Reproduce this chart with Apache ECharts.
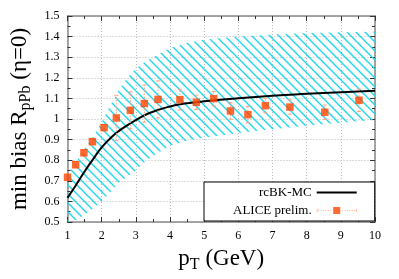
<!DOCTYPE html>
<html><head><meta charset="utf-8">
<script src="https://cdn.jsdelivr.net/npm/echarts@6/dist/echarts.min.js"></script>
<style>html,body{margin:0;padding:0;background:#fff}#c{width:399px;height:279px}</style>
</head><body><div id="c"></div>
<script>
// ---- data ----
const aliceX = [1.00, 1.24, 1.48, 1.73, 2.07, 2.43, 2.84, 3.25, 3.65, 4.29, 4.77, 5.28, 5.77, 6.28, 6.79, 7.51, 8.53, 9.53];
const aliceY = [0.717, 0.778, 0.836, 0.890, 0.958, 1.005, 1.042, 1.075, 1.095, 1.094, 1.081, 1.099, 1.039, 1.021, 1.065, 1.058, 1.033, 1.091];
const aliceErr = [0.015, 0.015, 0.015, 0.015, 0.015, 0.11, 0.09, 0.09, 0.09, 0.05, 0.035, 0.035, 0.04, 0.04, 0.035, 0.035, 0.035, 0.055];

const modelX = [1, 1.25, 1.5, 1.75, 2, 2.3, 2.6, 3, 3.4, 4, 4.5, 5, 6, 7, 8, 9, 10];
const modelY = [0.617, 0.68, 0.745, 0.805, 0.862, 0.914, 0.953, 0.995, 1.029, 1.061, 1.076, 1.086, 1.101, 1.113, 1.122, 1.130, 1.137];

const bandX    = [1, 1.25, 1.5, 1.75, 2, 2.25, 2.5, 2.75, 3, 3.25, 3.5, 4, 4.5, 5, 5.5, 6, 7, 8, 9, 10];
const bandHigh = [0.735, 0.79, 0.855, 0.915, 0.985, 1.065, 1.14, 1.20, 1.245, 1.275, 1.30, 1.345, 1.37, 1.385, 1.393, 1.40, 1.41, 1.417, 1.421, 1.424];
const bandLow  = [0.50, 0.51, 0.535, 0.565, 0.60, 0.645, 0.69, 0.72, 0.75, 0.79, 0.82, 0.87, 0.895, 0.91, 0.92, 0.932, 0.95, 0.967, 0.982, 0.995];

const xMin = 1, xMax = 10, xStep = 1;
const yMin = 0.5, yMax = 1.5, yStep = 0.1;
const legendNames = ['rcBK-MC', 'ALICE prelim.'];

// ---- styles ----
const SERIF = 'Liberation Serif';
function hatchCanvas() {
  const s = 9, c = document.createElement('canvas');
  c.width = s; c.height = s;
  const g = c.getContext('2d');
  g.strokeStyle = '#1ed8ea'; g.lineWidth = 1.4;
  g.beginPath();
  g.moveTo(-1, -1); g.lineTo(s + 1, s + 1);
  g.moveTo(-1, s - 1); g.lineTo(1, s + 1);
  g.moveTo(s - 1, -1); g.lineTo(s + 1, 1);
  g.stroke();
  return c;
}
const hatch = hatchCanvas();

function aliceIcon() {
  let p = 'path://M16.5,0 L23.5,0 L23.5,7 L16.5,7 Z M0,1.5 L0.8,1.5 L0.8,5.5 L0,5.5 Z M39.2,1.5 L40,1.5 L40,5.5 L39.2,5.5 Z';
  for (let x = 1.5; x < 39; x += 2.4) {
    if (x > 15.5 && x < 23.5) continue;
    p += ' M' + x + ',3.1 L' + (x + 1.1) + ',3.1 L' + (x + 1.1) + ',3.9 L' + x + ',3.9 Z';
  }
  return p;
}

const axisLineStyle = { color: '#888', width: 1.5 };
const tickStyle = { color: '#333', width: 1 };
const titleRich = {
  a: { fontFamily: SERIF, fontSize: 23, color: '#000' },
  s: { fontFamily: SERIF, fontSize: 16, color: '#000', padding: [12, 0, 0, 0] }
};

function xAx(pos, main) {
  return {
    type: 'value', min: xMin, max: xMax, interval: xStep, position: pos,
    axisLine: { show: true, onZero: false, lineStyle: axisLineStyle },
    axisTick: { show: true, inside: true, length: 5, lineStyle: tickStyle },
    minorTick: { show: true, splitNumber: 2, length: 3, lineStyle: tickStyle },
    splitLine: { show: main, lineStyle: { color: '#bbb', type: [1, 2], width: 1 } },
    axisLabel: { show: main, fontFamily: SERIF, fontSize: 12, color: '#000', margin: 8 },
    name: main ? '{a|p}{s|T}{a| (GeV)}' : '',
    nameLocation: 'middle', nameGap: 23,
    nameTextStyle: { rich: titleRich }
  };
}
function yAx(pos, main) {
  return {
    type: 'value', min: yMin, max: yMax, interval: yStep, position: pos,
    axisLine: { show: true, onZero: false, lineStyle: axisLineStyle },
    axisTick: { show: true, inside: true, length: 5, lineStyle: tickStyle },
    minorTick: { show: true, splitNumber: 2, length: 3, lineStyle: tickStyle },
    splitLine: { show: main, lineStyle: { color: '#bbb', type: [1, 2], width: 1 } },
    axisLabel: { show: main, fontFamily: SERIF, fontSize: 12, color: '#000', margin: 8 },
    name: main ? '{a|min bias R}{s|pPb}{a| (η=0)}' : '',
    nameLocation: 'middle', nameGap: 34, nameRotate: 90,
    nameTextStyle: { rich: titleRich }
  };
}

const chart = echarts.init(document.getElementById('c'), null, { renderer: 'canvas' });
chart.setOption({
  animation: false,
  backgroundColor: '#fff',
  grid: { left: 65, right: 24, top: 16, bottom: 57, containLabel: false },
  xAxis: [xAx('bottom', true), xAx('top', false)],
  yAxis: [yAx('left', true), yAx('right', false)],
  legend: {
    left: 204, top: 182, orient: 'vertical', align: 'right',
    padding: [4, 18, 4, 29], itemGap: 5, itemWidth: 40, itemHeight: 7,
    backgroundColor: '#fff', borderColor: '#000', borderWidth: 1, borderRadius: 0,
    selectedMode: false, symbolKeepAspect: true,
    textStyle: { fontFamily: SERIF, fontSize: 13, color: '#000' },
    data: [
      { name: legendNames[0], icon: 'path://M0,0 L40,0 L40,2 L0,2 Z', itemStyle: { color: '#000' } },
      { name: legendNames[1], icon: aliceIcon(),
        itemStyle: { color: { type: 'linear', x: 0, y: 0, x2: 1, y2: 0, colorStops: [
          { offset: 0, color: '#ffa27f' }, { offset: 0.4, color: '#ffa27f' },
          { offset: 0.4, color: '#ff4500' }, { offset: 0.6, color: '#ff4500' },
          { offset: 0.6, color: '#ffa27f' }, { offset: 1, color: '#ffa27f' }] } } }
    ]
  },
  series: [
    {
      type: 'custom', name: 'band', silent: true, clip: true, z: 1,
      xAxisIndex: 0, yAxisIndex: 0,
      data: [[bandX[0], bandLow[0]]],
      renderItem: function (params, api) {
        const pts = [];
        for (let i = 0; i < bandX.length; i++) pts.push(api.coord([bandX[i], bandHigh[i]]));
        for (let i = bandX.length - 1; i >= 0; i--) pts.push(api.coord([bandX[i], bandLow[i]]));
        return { type: 'polygon', shape: { points: pts }, style: { fill: { image: hatch, repeat: 'repeat' }, stroke: null } };
      }
    },
    {
      type: 'line', name: legendNames[0], data: modelX.map((x, i) => [x, modelY[i]]),
      smooth: true, symbol: 'none', z: 3,
      lineStyle: { color: '#000', width: 2 }, itemStyle: { color: '#000' }
    },
    {
      type: 'custom', name: 'errors', silent: true, z: 4,
      data: aliceX.map((x, i) => [x, aliceY[i] - aliceErr[i], aliceY[i] + aliceErr[i]]),
      encode: { x: 0, y: [1, 2] },
      renderItem: function (params, api) {
        const x = api.value(0);
        const lo = api.coord([x, api.value(1)]);
        const hi = api.coord([x, api.value(2)]);
        const w = 2, col = '#ffa27f';
        return { type: 'group', children: [
          { type: 'line', shape: { x1: lo[0], y1: lo[1], x2: hi[0], y2: hi[1] }, style: { stroke: col, lineWidth: 1, lineDash: [1.5, 1.5] } },
          { type: 'line', shape: { x1: lo[0] - w, y1: lo[1], x2: lo[0] + w, y2: lo[1] }, style: { stroke: col, lineWidth: 1 } },
          { type: 'line', shape: { x1: hi[0] - w, y1: hi[1], x2: hi[0] + w, y2: hi[1] }, style: { stroke: col, lineWidth: 1 } }
        ] };
      }
    },
    {
      type: 'scatter', name: legendNames[1], data: aliceX.map((x, i) => [x, aliceY[i]]),
      symbol: 'rect', symbolSize: 7.5, clip: false, z: 5,
      itemStyle: { color: '#ff4500' }
    }
  ]
});
</script>
</body></html>
